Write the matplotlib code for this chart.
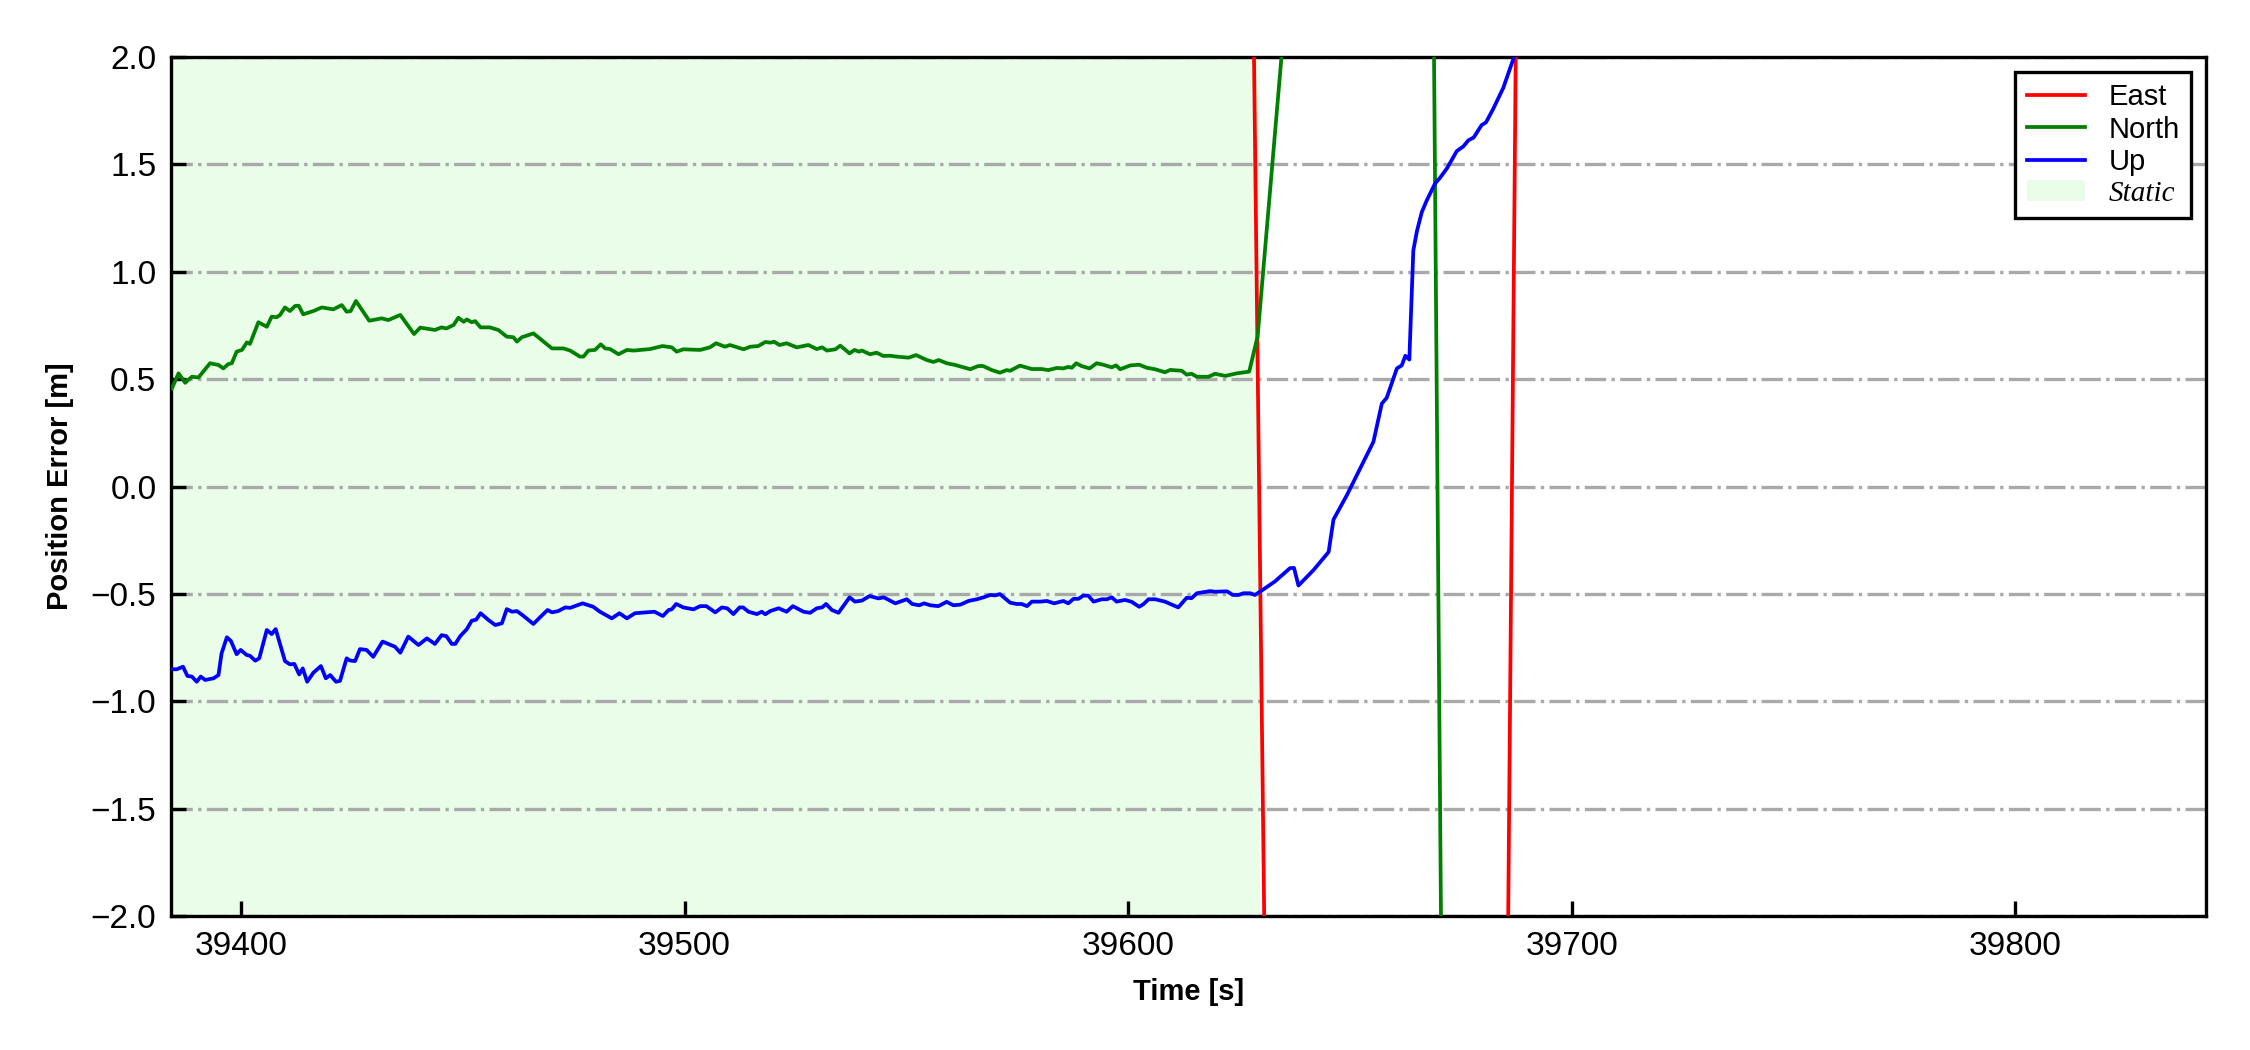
import numpy as np
import matplotlib
matplotlib.use("Agg")
import matplotlib.pyplot as plt
from matplotlib.patches import Patch

plt.rcParams['font.family'] = ['Liberation Sans', 'DejaVu Sans']

# static period (s)
static_start = 39384.2
static_end = 39629.7
x_range = [39384.2, 39843.0]

# North error [m]
north_t = [39384.4, 39385.9, 39387.4, 39388.9, 39390.4, 39393.0, 39394.9, 39396.0, 39397.1, 39397.9,
           39399.0, 39400.2, 39401.3, 39402.0, 39403.9, 39405.8, 39406.9, 39408.0, 39408.8, 39409.9,
           39411.0, 39412.2, 39413.0, 39414.0, 39416.3, 39418.2, 39420.8, 39422.7, 39423.8, 39424.7,
           39425.9, 39428.9, 39431.7, 39433.2, 39435.9, 39439.0, 39440.4, 39443.7, 39445.2, 39446.3,
           39447.9, 39449.0, 39450.2, 39450.9, 39452.0, 39452.8, 39454.0, 39456.1, 39458.0, 39459.9,
           39461.4, 39462.2, 39463.3, 39465.9, 39467.0, 39470.1, 39472.7, 39474.2, 39476.4, 39477.2,
           39478.3, 39479.8, 39481.1, 39482.1, 39483.2, 39485.1, 39487.0, 39488.5, 39492.2, 39495.0,
           39497.1, 39498.2, 39499.7, 39503.5, 39505.7, 39507.1, 39509.1, 39510.2, 39513.3, 39514.8,
           39516.6, 39518.2, 39519.3, 39520.2, 39521.4, 39523.0, 39525.3, 39527.9, 39529.8, 39531.0,
           39532.1, 39534.0, 39535.1, 39537.2, 39538.3, 39539.3, 39540.0, 39541.8, 39543.3, 39544.8,
           39546.3, 39547.8, 39550.5, 39552.2, 39554.6, 39556.1, 39557.3, 39559.1, 39561.0, 39562.9,
           39564.4, 39566.2, 39567.3, 39569.3, 39571.1, 39572.6, 39573.4, 39575.6, 39578.3, 39580.5,
           39582.0, 39583.9, 39585.4, 39586.5, 39587.3, 39588.3, 39589.5, 39591.3, 39592.9, 39594.4,
           39596.3, 39597.3, 39598.2, 39600.5, 39602.5, 39604.2, 39606.1, 39608.3, 39609.5, 39612.1,
           39613.2, 39614.3, 39615.5, 39618.1, 39619.6, 39621.9, 39624.5, 39627.3, 39629.2, 39666.0,
           39672.0]
north_v = [0.457, 0.527, 0.483, 0.511, 0.508, 0.574, 0.566, 0.550, 0.570, 0.574,
           0.628, 0.636, 0.671, 0.664, 0.765, 0.744, 0.791, 0.788, 0.799, 0.834,
           0.817, 0.841, 0.842, 0.802, 0.817, 0.834, 0.825, 0.845, 0.814, 0.817,
           0.864, 0.772, 0.783, 0.775, 0.799, 0.710, 0.740, 0.729, 0.741, 0.736,
           0.752, 0.786, 0.767, 0.778, 0.765, 0.770, 0.741, 0.741, 0.729, 0.698,
           0.695, 0.675, 0.695, 0.713, 0.695, 0.643, 0.643, 0.633, 0.605, 0.605,
           0.633, 0.636, 0.662, 0.643, 0.640, 0.616, 0.636, 0.633, 0.640, 0.654,
           0.648, 0.628, 0.639, 0.636, 0.648, 0.667, 0.651, 0.659, 0.639, 0.651,
           0.654, 0.673, 0.670, 0.674, 0.659, 0.667, 0.648, 0.659, 0.640, 0.648,
           0.633, 0.639, 0.656, 0.620, 0.636, 0.628, 0.633, 0.616, 0.623, 0.608,
           0.609, 0.605, 0.600, 0.612, 0.589, 0.580, 0.589, 0.574, 0.566, 0.555,
           0.546, 0.561, 0.561, 0.542, 0.530, 0.542, 0.539, 0.563, 0.547, 0.547,
           0.542, 0.552, 0.550, 0.557, 0.553, 0.574, 0.561, 0.550, 0.574, 0.567,
           0.555, 0.564, 0.546, 0.564, 0.567, 0.553, 0.546, 0.532, 0.543, 0.539,
           0.521, 0.525, 0.511, 0.511, 0.525, 0.515, 0.527, 0.535, 0.700, 9.600,
           -5.750]

# Up error [m]
up_t = [39384.4, 39385.5, 39386.9, 39387.9, 39388.9, 39390.0, 39390.9, 39391.9, 39393.8, 39394.9,
        39395.6, 39396.8, 39397.7, 39399.0, 39399.9, 39401.3, 39402.0, 39403.2, 39404.1, 39405.8,
        39406.9, 39407.8, 39409.9, 39411.0, 39412.0, 39413.1, 39413.9, 39414.9, 39416.3, 39418.0,
        39419.1, 39420.1, 39421.4, 39422.3, 39423.8, 39424.5, 39425.7, 39426.8, 39428.3, 39429.8,
        39431.9, 39434.7, 39435.9, 39437.7, 39440.0, 39441.9, 39443.7, 39445.2, 39446.3, 39447.5,
        39448.3, 39449.4, 39450.9, 39452.0, 39453.0, 39454.0, 39455.8, 39457.3, 39458.8, 39459.9,
        39461.1, 39462.2, 39463.7, 39465.9, 39467.4, 39469.1, 39470.1, 39471.5, 39473.1, 39474.2,
        39477.0, 39477.9, 39479.4, 39480.9, 39483.6, 39485.3, 39487.0, 39488.8, 39491.8, 39493.2,
        39495.1, 39496.4, 39497.1, 39498.1, 39499.7, 39502.0, 39503.5, 39504.9, 39506.9, 39508.4,
        39509.6, 39511.0, 39512.4, 39513.2, 39514.4, 39516.3, 39517.4, 39518.2, 39519.3, 39521.2,
        39523.0, 39524.4, 39526.8, 39528.3, 39529.8, 39531.0, 39531.9, 39533.2, 39534.7, 39537.2,
        39538.4, 39540.0, 39541.7, 39543.7, 39544.9, 39547.5, 39550.1, 39551.3, 39552.9, 39554.0,
        39555.4, 39557.2, 39559.1, 39560.6, 39562.2, 39564.0, 39565.9, 39567.4, 39568.9, 39570.0,
        39571.1, 39573.4, 39574.9, 39576.0, 39577.2, 39578.3, 39580.2, 39581.7, 39583.3, 39585.4,
        39586.5, 39587.7, 39588.8, 39589.9, 39591.0, 39592.2, 39594.1, 39595.2, 39596.3, 39597.4,
        39599.3, 39600.8, 39602.5, 39603.5, 39604.6, 39606.1, 39608.3, 39611.3, 39613.2, 39614.3,
        39615.5, 39618.5, 39619.6, 39622.3, 39623.6, 39624.9, 39626.0, 39627.5, 39628.6, 39630.5,
        39633.1, 39636.5, 39637.4, 39638.4, 39641.8, 39645.2, 39646.3, 39649.3, 39652.3, 39655.3,
        39657.2, 39658.3, 39660.6, 39661.7, 39662.5, 39663.4, 39664.3, 39665.1, 39666.2, 39667.3,
        39669.2, 39670.3, 39671.9, 39674.1, 39675.6, 39676.7, 39677.9, 39679.7, 39680.7, 39682.3,
        39684.6, 39686.9, 39688.5]
up_v = [-0.851, -0.851, -0.839, -0.882, -0.885, -0.909, -0.885, -0.901, -0.893, -0.878,
        -0.777, -0.702, -0.719, -0.781, -0.761, -0.785, -0.788, -0.811, -0.800, -0.668,
        -0.687, -0.664, -0.813, -0.828, -0.826, -0.875, -0.847, -0.909, -0.867, -0.836,
        -0.893, -0.878, -0.909, -0.905, -0.800, -0.810, -0.813, -0.757, -0.761, -0.793,
        -0.722, -0.746, -0.774, -0.699, -0.738, -0.707, -0.733, -0.692, -0.697, -0.733,
        -0.733, -0.697, -0.664, -0.625, -0.620, -0.590, -0.622, -0.645, -0.637, -0.571,
        -0.583, -0.580, -0.603, -0.640, -0.609, -0.575, -0.586, -0.580, -0.563, -0.565,
        -0.544, -0.550, -0.560, -0.583, -0.614, -0.590, -0.614, -0.590, -0.585, -0.583,
        -0.603, -0.575, -0.572, -0.547, -0.563, -0.572, -0.557, -0.557, -0.586, -0.563,
        -0.567, -0.594, -0.563, -0.563, -0.583, -0.594, -0.583, -0.595, -0.580, -0.567,
        -0.583, -0.557, -0.583, -0.588, -0.567, -0.563, -0.547, -0.575, -0.588, -0.516,
        -0.536, -0.531, -0.510, -0.521, -0.516, -0.544, -0.525, -0.547, -0.553, -0.544,
        -0.553, -0.557, -0.537, -0.553, -0.550, -0.533, -0.525, -0.516, -0.505, -0.507,
        -0.501, -0.541, -0.547, -0.547, -0.557, -0.536, -0.536, -0.533, -0.544, -0.533,
        -0.544, -0.523, -0.523, -0.508, -0.508, -0.536, -0.525, -0.525, -0.516, -0.536,
        -0.528, -0.537, -0.560, -0.547, -0.525, -0.525, -0.536, -0.563, -0.518, -0.520,
        -0.497, -0.487, -0.490, -0.488, -0.505, -0.505, -0.497, -0.497, -0.505, -0.479,
        -0.442, -0.380, -0.379, -0.461, -0.389, -0.305, -0.154, -0.041, 0.083, 0.208,
        0.386, 0.413, 0.550, 0.564, 0.609, 0.591, 1.099, 1.188, 1.277, 1.331,
        1.411, 1.437, 1.482, 1.562, 1.584, 1.612, 1.625, 1.683, 1.696, 1.758,
        1.857, 1.994, 2.080]

# East error [m] (only the crossings through the window are visible)
east_t = [39627.0, 39632.0, 39684.0, 39689.0]
east_v = [4.4, -4.3, -6.0, 5.8]

fig = plt.figure(figsize=(7.5, 3.5), dpi=300)
ax = fig.add_axes([0.076, 0.1276, 0.9044, 0.8181])

static_color = '#e9fde9'
ax.axvspan(static_start, static_end, color=static_color, lw=0, zorder=0)
ax.grid(axis='y', linestyle='-.', color='darkgray', linewidth=0.8, zorder=1)
ax.set_axisbelow(True)

l_e, = ax.plot(east_t, east_v, color='red', lw=0.9, label='East', zorder=3)
l_n, = ax.plot(north_t, north_v, color='green', lw=0.9, label='North', zorder=3)
l_u, = ax.plot(up_t, up_v, color='blue', lw=0.9, label='Up', zorder=3)

ax.set_xlim(x_range)
ax.set_ylim(-2.0, 2.0)
ax.set_yticks(np.arange(-2.0, 2.01, 0.5))
ax.set_xticks([39400, 39500, 39600, 39700, 39800])
ax.tick_params(direction='in', labelsize=8, length=3.5, width=0.8)
for sp in ax.spines.values():
    sp.set_linewidth(0.8)

ax.set_xlabel('Time [s]', fontsize=7, fontweight='bold')
ax.set_ylabel('Position Error [m]', fontsize=7, fontweight='bold')

handles = [l_e, l_n, l_u, Patch(facecolor=static_color, edgecolor='none', label='Static')]
leg = ax.legend(handles=handles, loc='upper right', fontsize=7, fancybox=False,
                framealpha=1, edgecolor='black', borderaxespad=0.5, labelspacing=0.15)
leg.get_frame().set_linewidth(0.8)
leg.get_texts()[3].set_fontfamily('Liberation Serif')
leg.get_texts()[3].set_fontstyle('italic')

fig.savefig('out.png', dpi=300)
